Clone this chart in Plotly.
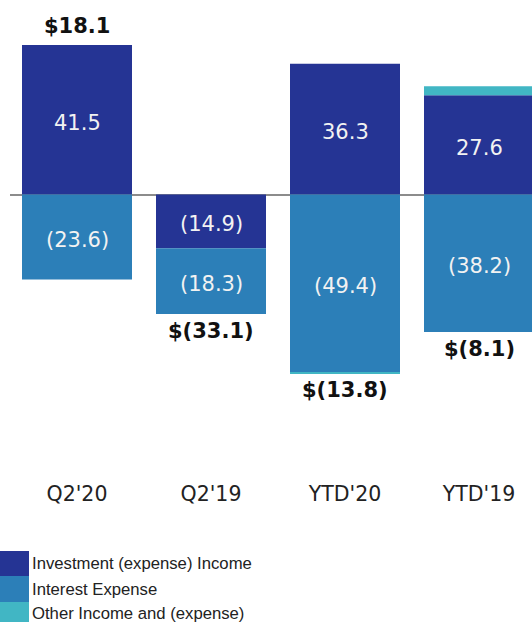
import plotly.graph_objects as go

# ---- data ----
categories = ["Q2'20", "Q2'19", "YTD'20", "YTD'19"]
investment = [41.5, -14.9, 36.3, 27.6]
interest = [-23.6, -18.3, -49.4, -38.2]
other = [0.0, 0.0, -0.3, 2.5]
totals = [18.1, -33.1, -13.8, -8.1]
series_names = ["Investment (expense) Income", "Interest Expense", "Other Income and (expense)"]
series_colors = ["#253494", "#2c7fb8", "#41b6c4"]

W, H = 532, 622
ML, MR, MT, MB = 10, 0, 10, 152
plot_w = W - ML - MR
plot_h = H - MT - MB
cat_px = 134.0
zero_px = 194.5          # pixel row of the zero line
px_per_unit = 3.6

y_top = (zero_px - MT) / px_per_unit
y_bot = -(MT + plot_h - zero_px) / px_per_unit


def fmt(v):
    return f"({abs(v):.1f})" if v < 0 else f"{v:.1f}"


def fmt_total(v):
    return f"$({abs(v):.1f})" if v < 0 else f"${v:.1f}"


fig = go.Figure()
series_vals = [investment, interest, other]
for name, vals, col in zip(series_names, series_vals, series_colors):
    fig.add_trace(go.Bar(
        x=categories, y=vals, name=name,
        marker=dict(color=col, line=dict(width=0)),
        showlegend=False,
        hoverinfo="skip",
    ))

annotations = []

# segment labels (centre of each stacked segment, relative stacking)
pos_base = [0.0] * len(categories)
neg_base = [0.0] * len(categories)
for i, vals in enumerate(series_vals):
    for k, c in enumerate(categories):
        v = vals[k]
        if v >= 0:
            mid = pos_base[k] + v / 2
            pos_base[k] += v
        else:
            mid = neg_base[k] + v / 2
            neg_base[k] += v
        if i < 2:
            annotations.append(dict(
                x=c, y=mid, xref="x", yref="y", text=fmt(v),
                showarrow=False, yanchor="middle", yshift=-3,
                font=dict(family="DejaVu Sans", size=21, color="#f2f2f2"),
            ))

# total labels
for k, c in enumerate(categories):
    t = totals[k]
    if t >= 0:
        y, shift = pos_base[k], 19
    else:
        y, shift = neg_base[k], -17
    annotations.append(dict(
        x=c, y=y, xref="x", yref="y", text=f"<b>{fmt_total(t)}</b>",
        showarrow=False, yanchor="middle", yshift=shift,
        font=dict(family="DejaVu Sans", size=21, color="#111111"),
    ))


# custom legend (big swatches at bottom-left)
def px_x(x):
    return (x - ML) / plot_w


def px_y(y):
    return (MT + plot_h - y) / plot_h


shapes = []
leg_rows = [(551, 576), (576, 602), (602, 630)]
leg_text_y = [563.5, 589, 613]
for (y0, y1), ty, name, col in zip(leg_rows, leg_text_y, series_names, series_colors):
    shapes.append(dict(type="rect", xref="paper", yref="paper",
                       x0=px_x(0), x1=px_x(29), y0=px_y(y1), y1=px_y(y0),
                       fillcolor=col, line=dict(width=0), layer="above"))
    annotations.append(dict(
        xref="paper", yref="paper", x=px_x(30), y=px_y(ty),
        xanchor="left", yanchor="middle", showarrow=False, text=name,
        font=dict(family="Liberation Sans", size=16.7, color="#222222"),
    ))

fig.update_layout(
    width=W, height=H,
    margin=dict(l=ML, r=MR, t=MT, b=MB, pad=0),
    barmode="relative",
    bargap=1 - 110 / cat_px,
    plot_bgcolor="white", paper_bgcolor="white",
    annotations=annotations,
    shapes=shapes,
    font=dict(family="DejaVu Sans", color="#222222"),
)
fig.update_xaxes(
    type="category",
    range=[-0.5, -0.5 + plot_w / cat_px],
    showgrid=False, showline=False, zeroline=False,
    ticks="outside", ticklen=5, tickcolor="rgba(0,0,0,0)",
    tickfont=dict(family="DejaVu Sans", size=20.5, color="#222222"),
)
fig.update_yaxes(
    range=[y_bot, y_top],
    showgrid=False, showticklabels=False, showline=False,
    zeroline=True, zerolinecolor="#8c8c8c", zerolinewidth=1.5,
)

fig.write_html(
    "out.html",
    config={"displayModeBar": False},
    post_script="document.body.style.margin='0';document.body.style.overflow='hidden';",
)
